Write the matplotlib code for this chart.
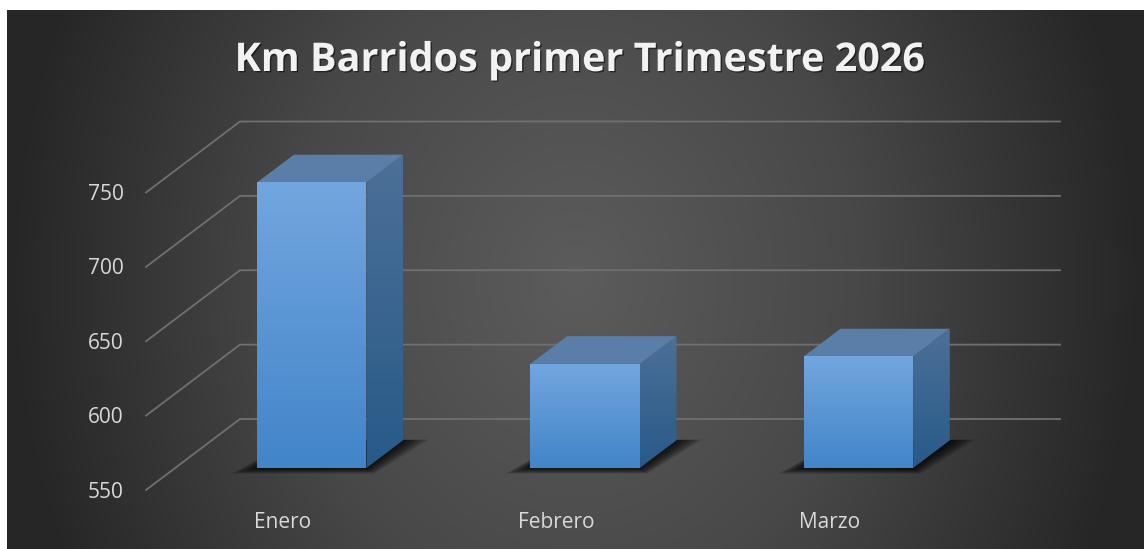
import numpy as np
import matplotlib
matplotlib.use("Agg")
import matplotlib.pyplot as plt
import matplotlib.patheffects as pe
from matplotlib.colors import LinearSegmentedColormap
from matplotlib.patches import Polygon

months = ["Enero", "Febrero", "Marzo"]
km = [742, 620, 625]
y_ticks = [550, 600, 650, 700, 750]
title = "Km Barridos primer Trimestre 2026"

W, H = 1144, 549
plt.rcParams["font.family"] = ["Open Sans", "DejaVu Sans"]
fig = plt.figure(figsize=(W / 100, H / 100), dpi=100, facecolor="white")

# dark panel with a soft glow in the middle
bg = fig.add_axes([7 / W, 0, (W - 7) / W, (H - 10) / H])
xx, yy = np.meshgrid(np.linspace(-1, 1, 500), np.linspace(-1, 1, 300))
r = np.clip(np.sqrt(xx**2 + (0.4 * yy) ** 2), 0, 1)
bg_cmap = LinearSegmentedColormap.from_list("bg", ["#5c5c5c", "#484848", "#262626"])
bg.imshow(r, cmap=bg_cmap, aspect="auto", vmin=0, vmax=1)
bg.axis("off")

# axes = front plane of the fake 3D box
left, right, bottom, top = 146, 966, 59, 356.5
ax = fig.add_axes([left / W, bottom / H, (right - left) / W, (top - bottom) / H])
ax.patch.set_alpha(0)
ax.axis("off")

px_x = (right - left) / 3
px_y = (top - bottom) / 200
dx = 94 / px_x
dy = 71 / px_y


def proj(x, y, d):
    return x + d * dx, y + d * dy


def grad_poly(pts, c1, c2, z):
    cmap = LinearSegmentedColormap.from_list("g", [c1, c2])
    pts = np.array(pts)
    ext = [pts[:, 0].min(), pts[:, 0].max(), pts[:, 1].min(), pts[:, 1].max()]
    im = ax.imshow(np.linspace(0, 1, 100).reshape(-1, 1), cmap=cmap, extent=ext,
                   aspect="auto", origin="upper", zorder=z)
    im.set_clip_path(Polygon(pts, transform=ax.transData))
    im.set_clip_box(fig.bbox)  # the tallest bar goes past the top of the axes


for v in y_ticks:
    p0 = proj(-0.5, v, 0)
    p1 = proj(-0.5, v, 1)
    p2 = proj(2.5, v, 1)
    ax.plot([p0[0], p1[0], p2[0]], [p0[1], p1[1], p2[1]], color="#707070", lw=1.3,
            solid_joinstyle="miter", clip_on=False, zorder=1)
    ax.text(-0.5 - 22 / px_x, v - 2 / px_y, str(v), color="#d9d9d9", fontsize=15,
            ha="right", va="center", clip_on=False)

d1, d2 = 0.31, 0.70
w = 0.2
for i, (m, v) in enumerate(zip(months, km)):
    x0, x1 = i - w, i + w
    fl, fr = proj(x0, 550, d1), proj(x1, 550, d1)
    bl, br = proj(x0, 550, d2), proj(x1, 550, d2)

    # floor shadow, stacked for a blurred edge
    for e in np.linspace(26, 0, 20):
        ex = e / px_x
        ey = 0.22 * e / px_y
        shadow = [(fl[0] - ex, fl[1] - ey), (fr[0] + ex * 0.3, fr[1] - ey),
                  (br[0] + ex, br[1] + ey * 0.1), (bl[0], bl[1] + ey * 0.1)]
        ax.add_patch(Polygon(shadow, fc="black", ec="none", alpha=0.06, zorder=2,
                             clip_on=False))

    ftl, ftr = proj(x0, v, d1), proj(x1, v, d1)
    btl, btr = proj(x0, v, d2), proj(x1, v, d2)
    grad_poly([fr, br, btr, ftr], "#4c7098", "#285a88", 3)
    ax.add_patch(Polygon([ftl, ftr, btr, btl], fc="#5a7ea8", ec="none", zorder=3,
                         clip_on=False))
    grad_poly([fl, fr, ftr, ftl], "#72a6df", "#4285c9", 4)

    ax.text(i, 550 - 33 / px_y, m, color="#d9d9d9", fontsize=15, ha="center",
            va="center", clip_on=False)

ax.set_xlim(-0.5, 2.5)
ax.set_ylim(550, 750)

fig.text(580 / W, 1 - 71 / H, title, color="#f2f2f2", fontsize=28.5, fontweight="bold",
         ha="center", va="baseline",
         path_effects=[pe.withSimplePatchShadow(offset=(1, -1), shadow_rgbFace="black",
                                                alpha=0.5)])

fig.savefig("out.png", dpi=100, facecolor="white")
